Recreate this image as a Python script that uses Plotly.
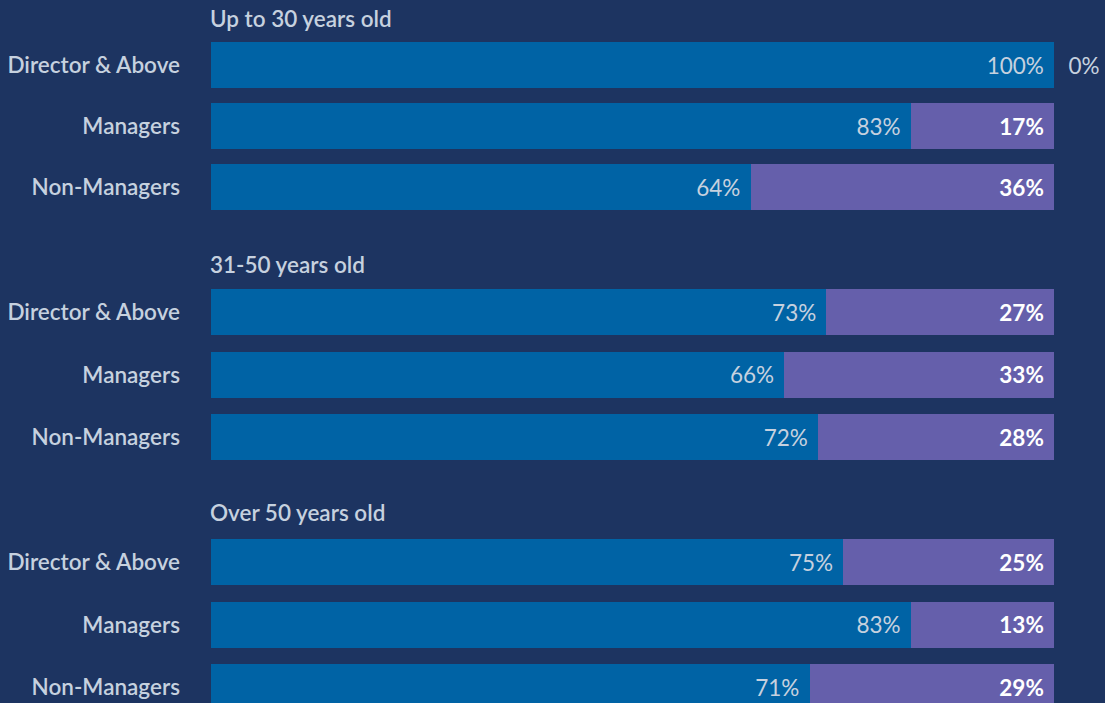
import plotly.graph_objects as go

# ---- data ----
groups = ["Up to 30 years old", "31-50 years old", "Over 50 years old"]
roles = ["Director & Above", "Managers", "Non-Managers"]
# bar lengths as drawn (share of bar, %)
blue_share = [[100, 83, 64], [73, 68, 72], [75, 83, 71]]
purple_share = [[0, 17, 36], [27, 32, 28], [25, 17, 29]]
# printed labels (%)
blue_label = [[100, 83, 64], [73, 66, 72], [75, 83, 71]]
purple_label = [[0, 17, 36], [27, 33, 28], [25, 13, 29]]

# ---- style ----
W, H = 1105, 703
BG = "#1d3461"
BLUE = "#0063a5"
PURPLE = "#655fab"
TXT = "#c6d1df"
FONT = "Lato"
FS = 22.5
rows_px = [61, 62.5, 62.5]
tops = [34.5, 281, 531]
title_y = [19, 264, 512]
BAR_PX = 46
PAD = "&nbsp;&#8202;"

fig = go.Figure()
layout = dict(
    width=W, height=H,
    paper_bgcolor=BG, plot_bgcolor=BG,
    margin=dict(l=211, r=51, t=0, b=0),
    barmode="stack", showlegend=False,
    font=dict(family=FONT, color=TXT, size=FS),
    annotations=[],
)

for g in range(3):
    sfx = "" if g == 0 else str(g + 1)
    xa, ya = "x" + sfx, "y" + sfx
    ROW = rows_px[g]
    top = tops[g]
    bottom = min(top + 3 * ROW, H)
    dom = [1 - bottom / H, 1 - top / H]
    rng_bottom = -0.5 + (bottom - top) / ROW
    bw = BAR_PX / ROW

    b_txt = [f"{v}%{PAD}" for v in blue_label[g]]
    p_txt = [(f"&nbsp;&nbsp;{v}%" if s == 0 else f"<b>{v}%</b>{PAD}")
             for v, s in zip(purple_label[g], purple_share[g])]
    p_pos = ["outside" if s == 0 else "inside" for s in purple_share[g]]

    fig.add_trace(go.Bar(
        x=blue_share[g], y=roles, orientation="h", marker_color=BLUE,
        marker_line_width=0, width=bw, text=b_txt, textposition="inside",
        insidetextanchor="end", textangle=0, constraintext="none",
        insidetextfont=dict(color=TXT, size=FS, family=FONT),
        xaxis=xa, yaxis=ya, hoverinfo="skip"))
    fig.add_trace(go.Bar(
        x=purple_share[g], y=roles, orientation="h", marker_color=PURPLE,
        marker_line_width=0, width=bw, text=p_txt, textposition=p_pos,
        insidetextanchor="end", textangle=0, constraintext="none",
        insidetextfont=dict(color="white", size=FS, family=FONT),
        outsidetextfont=dict(color=TXT, size=FS, family=FONT),
        cliponaxis=False, xaxis=xa, yaxis=ya, hoverinfo="skip"))

    layout["xaxis" + sfx] = dict(range=[0, 100], visible=False, anchor=ya, fixedrange=True)
    layout["yaxis" + sfx] = dict(
        domain=dom, anchor=xa, type="category", categoryorder="array",
        categoryarray=roles, range=[rng_bottom, -0.5], showgrid=False,
        zeroline=False, showline=False, ticks="", ticklabelstandoff=30,
        fixedrange=True,
        tickfont=dict(family=FONT, size=FS, color=TXT, weight=600))
    layout["annotations"].append(dict(
        text=groups[g], x=0, xref="paper", xanchor="left", xshift=-3,
        y=1 - title_y[g] / H, yref="paper", yanchor="middle", showarrow=False,
        font=dict(family=FONT, size=FS, color=TXT, weight=600)))

fig.update_layout(**layout)
fig.write_html(
    "out.html",
    config={"displayModeBar": False, "staticPlot": True},
    post_script="document.body.style.margin='0';document.body.style.overflow='hidden';"
                "document.body.style.background='" + BG + "';",
)
